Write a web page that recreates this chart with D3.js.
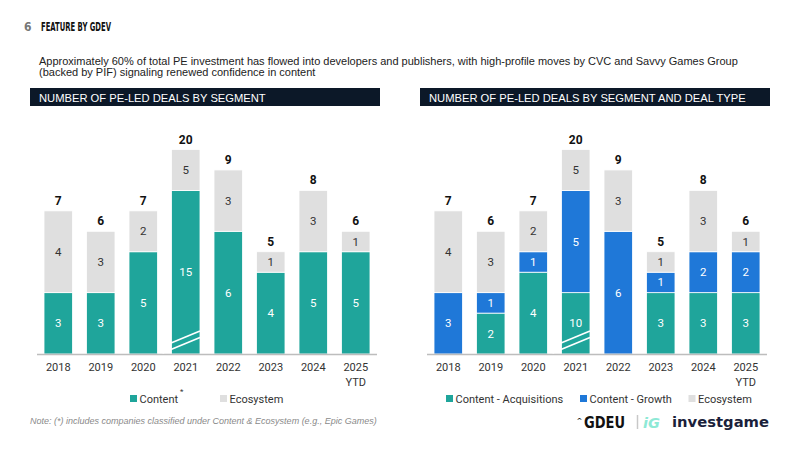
<!DOCTYPE html>
<html>
<head>
<meta charset="utf-8">
<script src="https://cdn.jsdelivr.net/npm/d3@7"></script>
<style>
  body { margin: 0; background: #fff; }
  svg { display: block; }
</style>
</head>
<body>
<svg width="800" height="450"></svg>
<script>
// data
var years = ["2018", "2019", "2020", "2021", "2022", "2023", "2024", "2025"];
var yearSub = ["", "", "", "", "", "", "", "YTD"];
var content = [3, 3, 5, 15, 6, 4, 5, 5];
var ecosystem = [4, 3, 2, 5, 3, 1, 3, 1];
var acquisitions = [0, 2, 4, 10, 0, 3, 3, 3];
var growth = [3, 1, 1, 5, 6, 1, 2, 2];
var totals = [7, 6, 7, 20, 9, 5, 8, 6];

// 2021 bar is drawn with an axis break: how tall each piece is drawn
var brokenYear = "2021";
var brokenShown = { content: 8, ecosystem: 2, acquisitions: 3, growth: 5 };

var teal = "#1fa59b", blue = "#1f78d8", grey = "#dfdfdf";

var svg = d3.select("svg");

// header
svg.append("text").attr("x", 24).attr("y", 31)
  .attr("font-family", "'Liberation Sans Narrow', 'DejaVu Sans Condensed', sans-serif")
  .attr("font-weight", "bold").attr("font-size", 12).attr("fill", "#777")
  .text("6");
svg.append("text").attr("x", 41).attr("y", 31)
  .attr("font-family", "'Liberation Sans Narrow', 'DejaVu Sans Condensed', sans-serif")
  .attr("font-weight", "bold").attr("font-size", 12).attr("fill", "#111")
  .attr("textLength", 70).attr("lengthAdjust", "spacingAndGlyphs")
  .text("FEATURE BY GDEV");

var sub = svg.append("text")
  .attr("font-family", "'Liberation Sans', Arial, sans-serif")
  .attr("font-size", 11).attr("fill", "#222");
sub.append("tspan").attr("x", 39).attr("y", 65)
  .text("Approximately 60% of total PE investment has flowed into developers and publishers, with high-profile moves by CVC and Savvy Games Group");
sub.append("tspan").attr("x", 39).attr("y", 75.5)
  .text("(backed by PIF) signaling renewed confidence in content");

function titleBar(x, label) {
  svg.append("rect").attr("x", x).attr("y", 88).attr("width", 350).attr("height", 18)
    .attr("fill", "#0c1828");
  svg.append("text").attr("x", x + 9).attr("y", 101.5)
    .attr("font-family", "'Liberation Sans', Arial, sans-serif")
    .attr("font-size", 11.2).attr("fill", "#fff")
    .text(label);
}
titleBar(30, "NUMBER OF PE-LED DEALS BY SEGMENT");
titleBar(420, "NUMBER OF PE-LED DEALS BY SEGMENT AND DEAL TYPE");

var y = d3.scaleLinear().domain([0, 10]).range([354, 149.5]);

function drawChart(x0, keys, seriesByKey, colors, textColors) {
  var x = d3.scaleBand().domain(years).range([x0, x0 + 340])
    .paddingInner(0.33).paddingOuter(0.165);
  var g = svg.append("g");

  years.forEach(function(yr, i) {
    var base = 0;
    keys.forEach(function(k, j) {
      var v = seriesByKey[k][i];
      if (v === 0) return;
      var shown = (yr === brokenYear) ? brokenShown[k] : v;
      var top = base + shown;
      g.append("rect")
        .attr("x", x(yr)).attr("width", x.bandwidth())
        .attr("y", y(top)).attr("height", y(base) - y(top))
        .attr("fill", colors[j]).attr("stroke", "#fff").attr("stroke-width", 0.8);
      g.append("text")
        .attr("x", x(yr) + x.bandwidth() / 2)
        .attr("y", (y(top) + y(base)) / 2 + 4)
        .attr("text-anchor", "middle")
        .attr("font-family", "Roboto, sans-serif").attr("font-size", 11.5)
        .attr("fill", textColors[j])
        .text(v);
      base = top;
    });
    g.append("text")
      .attr("x", x(yr) + x.bandwidth() / 2)
      .attr("y", y(base) - 6)
      .attr("text-anchor", "middle")
      .attr("font-family", "Roboto, sans-serif").attr("font-weight", "bold").attr("font-size", 12)
      .attr("fill", "#111")
      .text(totals[i]);
  });

  // baseline
  g.append("line").attr("x1", x0).attr("x2", x0 + 340)
    .attr("y1", y(0) + 0.5).attr("y2", y(0) + 0.5)
    .attr("stroke", "#bdbdbd").attr("stroke-width", 1.5);

  // break marks on the broken bar
  var bx = x(brokenYear), bw = x.bandwidth();
  [0, 6.5].forEach(function(off) {
    g.append("line")
      .attr("x1", bx - 9).attr("y1", y(0) - 7.5 + off)
      .attr("x2", bx + bw).attr("y2", y(0) - 23 + off)
      .attr("stroke", "#fff").attr("stroke-width", 1.6);
  });

  // x labels
  var ax = g.append("g").attr("transform", "translate(0," + y(0) + ")")
    .call(d3.axisBottom(x).tickSize(0).tickPadding(9));
  ax.select(".domain").remove();
  ax.selectAll("text")
    .attr("font-family", "Roboto, sans-serif").attr("font-size", 11).attr("fill", "#333");
  years.forEach(function(yr, i) {
    if (!yearSub[i]) return;
    g.append("text").attr("x", x(yr) + bw / 2).attr("y", y(0) + 32)
      .attr("text-anchor", "middle")
      .attr("font-family", "Roboto, sans-serif").attr("font-size", 11).attr("fill", "#333")
      .text(yearSub[i]);
  });
}

drawChart(37, ["content", "ecosystem"], { content: content, ecosystem: ecosystem },
  [teal, grey], ["#fff", "#333"]);
drawChart(427, ["acquisitions", "growth", "ecosystem"],
  { acquisitions: acquisitions, growth: growth, ecosystem: ecosystem },
  [teal, blue, grey], ["#fff", "#fff", "#333"]);

// legends
function legendItem(x, color, label) {
  svg.append("rect").attr("x", x).attr("y", 395).attr("width", 7).attr("height", 7).attr("fill", color);
  return svg.append("text").attr("x", x + 9.5).attr("y", 402.5)
    .attr("font-family", "Roboto, sans-serif").attr("font-size", 11).attr("fill", "#333")
    .text(label);
}
legendItem(130, teal, "Content");
svg.append("text").attr("x", 180).attr("y", 394)
  .attr("font-family", "Roboto, sans-serif").attr("font-size", 8).attr("fill", "#333").text("*");
legendItem(220, grey, "Ecosystem");
legendItem(446, teal, "Content - Acquisitions");
legendItem(580, blue, "Content - Growth");
legendItem(688.5, grey, "Ecosystem");

// note
svg.append("text").attr("x", 30).attr("y", 424)
  .attr("font-family", "'Liberation Sans', Arial, sans-serif").attr("font-style", "italic")
  .attr("font-size", 9).attr("fill", "#8a8a8a")
  .text("Note: (*) includes companies classified under Content & Ecosystem (e.g., Epic Games)");

// logos
svg.append("text").attr("x", 576.5).attr("y", 423)
  .attr("font-family", "'DejaVu Sans', sans-serif").attr("font-weight", "bold")
  .attr("font-size", 7).attr("fill", "#111").text("^");
svg.append("text").attr("x", 584).attr("y", 428)
  .attr("font-family", "'Liberation Sans Narrow', 'DejaVu Sans Condensed', sans-serif")
  .attr("font-weight", "bold").attr("font-size", 16).attr("fill", "#111")
  .attr("textLength", 41).attr("lengthAdjust", "spacingAndGlyphs")
  .text("GDEU");
svg.append("line").attr("x1", 637.5).attr("x2", 637.5).attr("y1", 415).attr("y2", 429)
  .attr("stroke", "#c8c8c8").attr("stroke-width", 1.5);
svg.append("text").attr("x", 643).attr("y", 427.5)
  .attr("font-family", "'DejaVu Sans', sans-serif").attr("font-weight", "bold").attr("font-style", "italic")
  .attr("font-size", 14).attr("fill", "#8ee9d6")
  .attr("textLength", 17).attr("lengthAdjust", "spacingAndGlyphs")
  .text("iG");
svg.append("text").attr("x", 672).attr("y", 426.5)
  .attr("font-family", "'DejaVu Sans', sans-serif").attr("font-weight", "bold")
  .attr("font-size", 14.5).attr("fill", "#1b1f3b")
  .attr("textLength", 97).attr("lengthAdjust", "spacingAndGlyphs")
  .text("investgame");
</script>
</body>
</html>
